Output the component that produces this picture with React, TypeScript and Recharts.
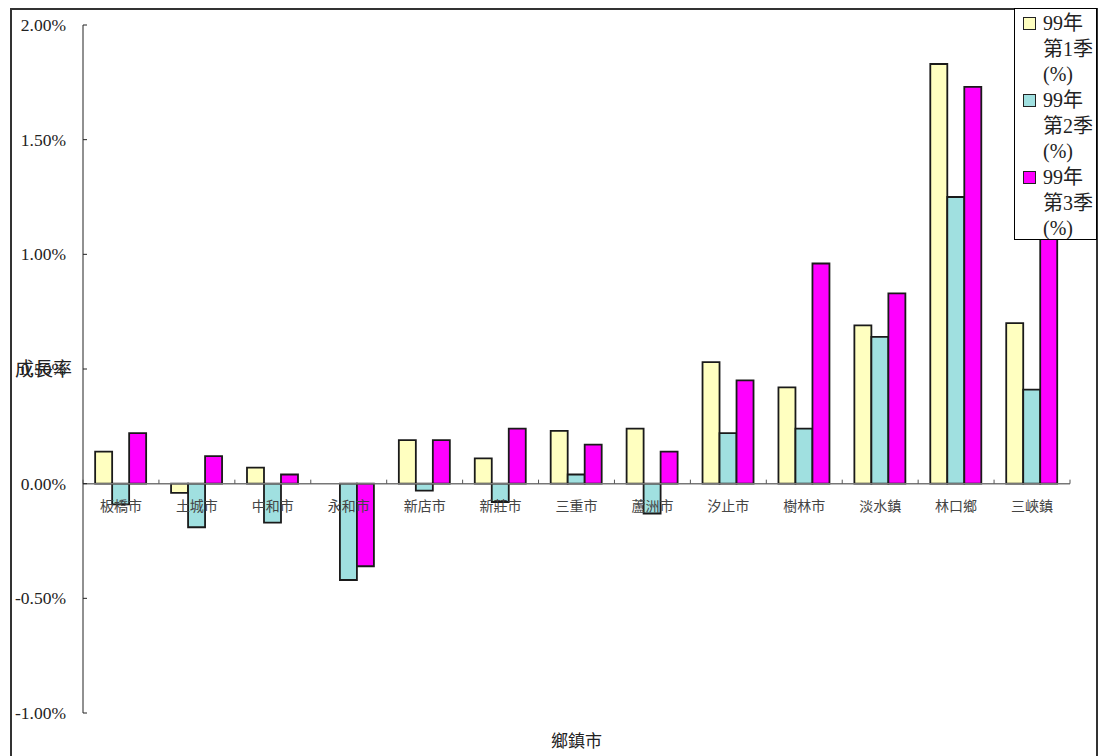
import React from 'react';
import { BarChart, Bar, XAxis, YAxis, ReferenceLine, Label } from 'recharts';

// 鄉鎮市 growth rate (%)
const towns = ['板橋市', '土城市', '中和市', '永和市', '新店市', '新莊市', '三重市', '蘆洲市', '汐止市', '樹林市', '淡水鎮', '林口鄉', '三峽鎮'];
const q1 = [0.14, -0.04, 0.07, 0, 0.19, 0.11, 0.23, 0.24, 0.53, 0.42, 0.69, 1.83, 0.70];
const q2 = [-0.09, -0.19, -0.17, -0.42, -0.03, -0.08, 0.04, -0.13, 0.22, 0.24, 0.64, 1.25, 0.41];
const q3 = [0.22, 0.12, 0.04, -0.36, 0.19, 0.24, 0.17, 0.14, 0.45, 0.96, 0.83, 1.73, 1.2];

const seriesKeys = ['q1', 'q2', 'q3'];
const seriesLabels = [
  ['99年', '第1季', '(%)'],
  ['99年', '第2季', '(%)'],
  ['99年', '第3季', '(%)'],
];
const COLORS = ['#FFFFC0', '#A0E0E0', '#FF00FF'];

const yTicks = [-1, -0.5, 0, 0.5, 1, 1.5, 2];
const Y_MIN = -1;
const Y_MAX = 2;

const LATIN = '"Liberation Serif", "DejaVu Serif", serif';
const FONT = '"Liberation Serif", "DejaVu Serif", serif, "Noto Sans CJK TC"';

const CHART_W = 1100;
const CHART_H = 756;
const MARGIN = { top: 25, right: 30, bottom: 3, left: 0 };
const X_AXIS_H = 40;
const PLOT_H = CHART_H - MARGIN.top - MARGIN.bottom - X_AXIS_H;

const data = towns.map((town, i) => ({ town, q1: q1[i], q2: q2[i], q3: q3[i] }));

// category labels sit under the zero line, not at the bottom of the plot
function TownTick(props: any) {
  const { x, y, payload, index } = props;
  const zeroY = y - (PLOT_H * (0 - Y_MIN)) / (Y_MAX - Y_MIN);
  const half = payload && payload.offset ? payload.offset : 38;
  return (
    <g>
      <line x1={x - half} x2={x - half} y1={zeroY} y2={zeroY - 4} stroke="#555" />
      {index === towns.length - 1 && (
        <line x1={x + half} x2={x + half} y1={zeroY} y2={zeroY - 4} stroke="#555" />
      )}
      <text x={x} y={zeroY + 27} textAnchor="middle" fontSize={14} fill="#444" fontFamily={FONT}>
        {payload.value}
      </text>
    </g>
  );
}

function PercentTick(props: any) {
  const { x, y, payload } = props;
  return (
    <g>
      <line x1={x} x2={x + 4} y1={y} y2={y} stroke="#222" />
      <text x={x - 17} y={y + 6} textAnchor="end" fontSize={17.5} fill="#222" fontFamily={LATIN}>
        {`${payload.value.toFixed(2)}%`}
      </text>
    </g>
  );
}

function LegendBox() {
  return (
    <div
      style={{
        position: 'absolute',
        left: 1014,
        top: 8,
        width: 83,
        height: 232,
        boxSizing: 'border-box',
        border: '1px solid #000',
        background: '#fff',
        overflow: 'hidden',
        paddingTop: 2,
        fontFamily: FONT,
        fontSize: 20,
        color: '#222',
      }}
    >
      {seriesLabels.map((lines, i) => (
        <div key={i} style={{ position: 'relative', paddingLeft: 28, height: 77 }}>
          <span
            style={{
              position: 'absolute',
              left: 8,
              top: 6,
              width: 11,
              height: 11,
              background: COLORS[i],
              border: '1.5px solid #222',
            }}
          />
          {lines.map((l, j) => (
            <div key={j} style={{ whiteSpace: 'nowrap', height: 25.7, lineHeight: '25.7px' }}>{l}</div>
          ))}
        </div>
      ))}
    </div>
  );
}

export default function App() {
  return (
    <div style={{ position: 'relative', width: CHART_W, height: CHART_H, overflow: 'hidden' }}>
      <style>{'html, body { overflow: hidden; margin: 0; }'}</style>
      <div
        style={{
          position: 'absolute',
          left: 10,
          top: 8,
          width: 1088,
          height: 800,
          boxSizing: 'border-box',
          border: '2px solid #333',
        }}
      />
      <div style={{ position: 'absolute', left: 0, top: 0 }}>
        <BarChart
          width={CHART_W}
          height={CHART_H}
          data={data}
          margin={MARGIN}
          barCategoryGap="16%"
          barGap={0}
        >
          <XAxis
            dataKey="town"
            height={X_AXIS_H}
            axisLine={false}
            tickLine={false}
            tickSize={0}
            tickMargin={0}
            interval={0}
            tick={<TownTick />}
          >
            <Label
              value="鄉鎮市"
              position="insideBottom"
              offset={6}
              style={{ fontSize: 17, fill: '#222', fontFamily: FONT }}
            />
          </XAxis>
          <YAxis
            width={83}
            domain={[Y_MIN, Y_MAX]}
            ticks={yTicks}
            interval={0}
            axisLine={{ stroke: '#222' }}
            tickLine={false}
            tickSize={0}
            tickMargin={0}
            tick={<PercentTick />}
          >
            <Label
              value="成長率"
              position="insideLeft"
              offset={15}
              style={{ fontSize: 19, fill: '#222', fontFamily: FONT, textAnchor: 'start' }}
            />
          </YAxis>
          <ReferenceLine y={0} stroke="#777" strokeWidth={1.5} />
          {seriesKeys.map((k, i) => (
            <Bar
              key={k}
              dataKey={k}
              fill={COLORS[i]}
              stroke="#1a1a1a"
              strokeWidth={1.8}
              isAnimationActive={false}
            />
          ))}
        </BarChart>
      </div>
      <LegendBox />
    </div>
  );
}
